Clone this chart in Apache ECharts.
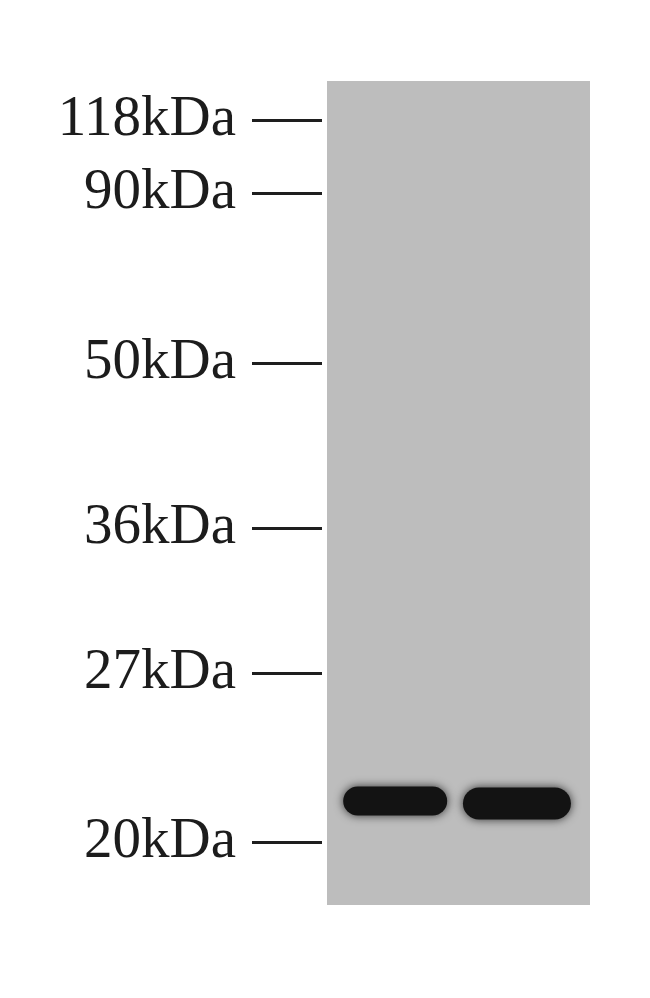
<!DOCTYPE html>
<html>
<head>
<meta charset="utf-8">
<script src="https://cdn.jsdelivr.net/npm/echarts@6/dist/echarts.min.js"></script>
<style>html,body{margin:0;padding:0;background:#fff}#c{width:650px;height:998px}</style>
</head>
<body>
<div id="c"></div>
<script>
// Marker ladder (label, migration distance from top of gel)
var markerLabels = ['118kDa', '90kDa', '50kDa', '36kDa', '27kDa', '20kDa'];
var markerPos = [39, 112, 282, 447, 592, 761];
// Sample lanes and detected bands (lane, migration distance, relative intensity)
var lanes = [1, 2];
var bandPos = [720, 722.5];
var bandIntensity = [0.95, 1.0];

var chart = echarts.init(document.getElementById('c'), null, {renderer: 'canvas'});
var bandData = lanes.map(function (l, i) { return [l, bandPos[i], bandIntensity[i]]; });

chart.setOption({
  backgroundColor: '#ffffff',
  animation: false,
  grid: {left: 327, right: 60, top: 81, bottom: 93, show: true, backgroundColor: '#bdbdbd', borderWidth: 0},
  xAxis: {type: 'value', min: 0.44, max: 2.6, show: false},
  yAxis: {
    type: 'value', inverse: true, min: 0, max: 824, offset: 5,
    axisLine: {show: false},
    splitLine: {show: false},
    axisTick: {show: true, customValues: markerPos, length: 70, lineStyle: {color: '#1e1e1e', width: 3}},
    axisLabel: {
      show: true, customValues: markerPos, margin: 86,
      fontFamily: 'Liberation Serif', fontSize: 57, color: '#1c1c1c',
      verticalAlign: 'middle', padding: [0, 0, 18, 0],
      formatter: function (v) {
        var i = markerPos.indexOf(v);
        return i >= 0 ? markerLabels[i] : '';
      }
    }
  },
  series: [{
    type: 'custom',
    data: bandData,
    renderItem: function (params, api) {
      var c = api.coord([api.value(0), api.value(1)]);
      var k = api.value(2);
      var w = 104 + (k - 0.95) * 80;
      var h = 29 + (k - 0.95) * 60;
      return {
        type: 'rect',
        shape: {x: c[0] - w / 2, y: c[1] - h / 2, width: w, height: h, r: h / 2},
        style: {fill: '#131313', shadowBlur: 10, shadowColor: 'rgba(0,0,0,0.75)'}
      };
    }
  }]
});
</script>
</body>
</html>
